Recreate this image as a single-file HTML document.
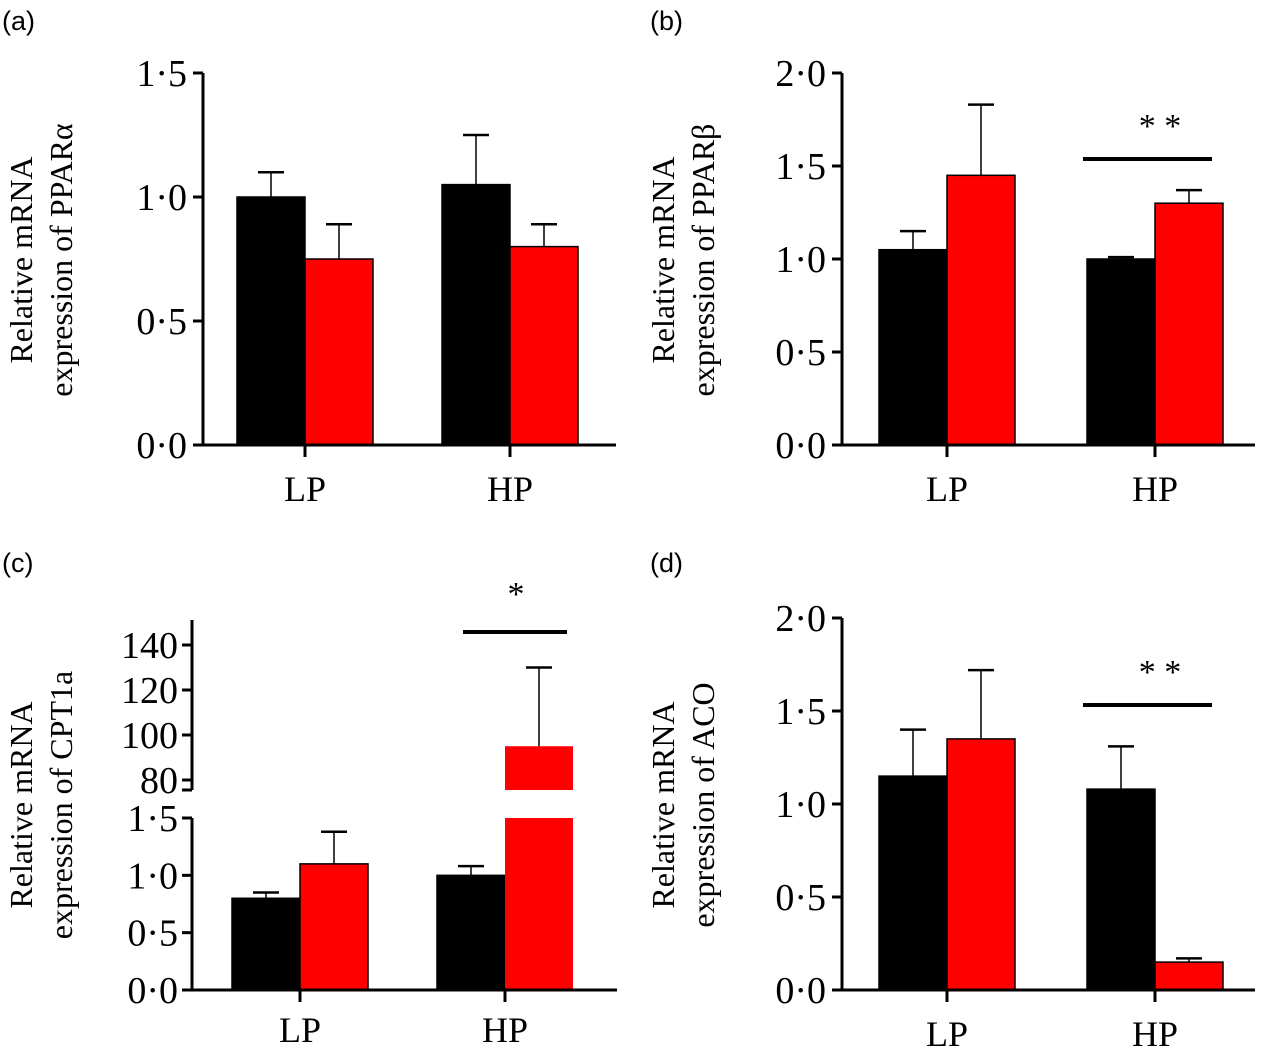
<!DOCTYPE html>
<html><head><meta charset="utf-8"><style>
body{margin:0;background:#fff}
svg{display:block}
text{font-family:"Liberation Serif","Times New Roman",serif}
</style></head><body>
<svg id="fig" width="1270" height="1055" viewBox="0 0 1270 1055" xmlns="http://www.w3.org/2000/svg">
<g font-size="27">
<text x="2" y="30" style="font-family:'Liberation Sans',sans-serif">(a)</text>
<text x="650" y="30" style="font-family:'Liberation Sans',sans-serif">(b)</text>
<text x="2" y="572" style="font-family:'Liberation Sans',sans-serif">(c)</text>
<text x="650" y="572" style="font-family:'Liberation Sans',sans-serif">(d)</text>
</g>
</svg>
<script>
const categories = ["LP", "HP"];
const aBlack = [1.0, 1.05], aBlackErr = [0.10, 0.20];
const aRed = [0.75, 0.80], aRedErr = [0.14, 0.09];
const aTicks = ["0·0", "0·5", "1·0", "1·5"];
const bBlack = [1.05, 1.0], bBlackErr = [0.10, 0.01];
const bRed = [1.45, 1.30], bRedErr = [0.38, 0.07];
const bTicks = ["0·0", "0·5", "1·0", "1·5", "2·0"];
const cBlack = [0.80, 1.00], cBlackErr = [0.05, 0.08];
const cRed = [1.10, 95], cRedErr = [0.28, 35];
const cTicksLow = ["0·0", "0·5", "1·0", "1·5"];
const cTicksHigh = ["80", "100", "120", "140"];
const dBlack = [1.15, 1.08], dBlackErr = [0.25, 0.23];
const dRed = [1.35, 0.15], dRedErr = [0.37, 0.02];
const dTicks = ["0·0", "0·5", "1·0", "1·5", "2·0"];

const NS = "http://www.w3.org/2000/svg";
const svg = document.getElementById("fig");
const TICK = 38;
function mk(tag, attrs, parent) {
  const e = document.createElementNS(NS, tag);
  for (const k in attrs) e.setAttribute(k, attrs[k]);
  (parent || svg).appendChild(e);
  return e;
}
function txt(x, y, s, size, anchor, parent) {
  const t = mk("text", {x: x, y: y, "font-size": size, "text-anchor": anchor || "middle", "font-family": "Liberation Serif, serif"}, parent);
  t.textContent = s;
  return t;
}
function ytitle(cx, cy, l1, l2) {
  const g = mk("g", {transform: "translate(" + cx + "," + cy + ") rotate(-90)"});
  
  
  txt(0, 0, l1, 32, "middle", g);
  txt(0, 40, l2, 32, "middle", g);
}
function errbar(x, yTop, yErr, g) {
  mk("line", {x1: x, y1: yTop, x2: x, y2: yErr, stroke: "#000", "stroke-width": 1.5}, g);
  mk("line", {x1: x - 13, y1: yErr, x2: x + 13, y2: yErr, stroke: "#000", "stroke-width": 2.5}, g);
}
function panel(id, ax, y0, yTop, maxV, ticks, black, blackErr, red, redErr, groupX, sig) {
  const g = mk("g", {});
  
  
  const Y = v => y0 - (v / maxV) * (y0 - yTop);
  const bw = 68;
  for (let i = 0; i < categories.length; i++) {
    const cx = groupX[i];
    const b = mk("rect", {x: cx - bw, y: Y(black[i]), width: bw, height: y0 - Y(black[i]), fill: "#000", stroke: "#000", "stroke-width": 1.5}, g);
    
    
    errbar(cx - bw / 2, Y(black[i]), Y(black[i] + blackErr[i]), g);
    const r = mk("rect", {x: cx, y: Y(red[i]), width: bw, height: y0 - Y(red[i]), fill: "#ff0000", stroke: "#000", "stroke-width": 1.5}, g);
    
    
    errbar(cx + bw / 2, Y(red[i]), Y(red[i] + redErr[i]), g);
    mk("line", {x1: cx, y1: y0, x2: cx, y2: y0 + 12, stroke: "#000", "stroke-width": 3}, g);
    txt(cx, y0 + 56, categories[i], 36, "middle", g);
  }
  mk("line", {x1: ax, y1: yTop, x2: ax, y2: y0, stroke: "#000", "stroke-width": 3}, g);
  mk("line", {x1: ax - 10, y1: y0, x2: ax + 413, y2: y0, stroke: "#000", "stroke-width": 3}, g);
  const step = maxV / (ticks.length - 1);
  ticks.forEach((t, i) => {
    const y = Y(i * step);
    mk("line", {x1: ax - 10, y1: y, x2: ax, y2: y, stroke: "#000", "stroke-width": 3}, g);
    txt(ax - 16, y + 13, t, TICK, "end", g);
  });
  if (sig) {
    const s = mk("line", {x1: groupX[1] - 72, y1: sig.y, x2: groupX[1] + 57, y2: sig.y, stroke: "#000", "stroke-width": 4}, g);
    
    
    txt(groupX[1] + 5, sig.y - 22, sig.t, 34, "middle", g);
  }
}
panel("a", 203, 445, 73, 1.5, aTicks, aBlack, aBlackErr, aRed, aRedErr, [305, 510], null);
ytitle(32, 260, "Relative mRNA", "expression of PPARα");
panel("b", 842, 445, 73, 2.0, bTicks, bBlack, bBlackErr, bRed, bRedErr, [947, 1155], {y: 159, t: "* *"});
ytitle(674, 260, "Relative mRNA", "expression of PPARβ");
panel("d", 842, 990, 618, 2.0, dTicks, dBlack, dBlackErr, dRed, dRedErr, [947, 1155], {y: 705, t: "* *"});
ytitle(674, 805, "Relative mRNA", "expression of ACO");

(function () {
  const g = mk("g", {});
  
  
  const ax = 192, y0 = 990, yL = 818, yBreak = 790;
  const YL = v => y0 - (v / 1.5) * (y0 - yL);
  const YH = v => 780 - (v - 80) / 60 * (780 - 645);
  const Yv = v => v <= 1.5 ? YL(v) : YH(v);
  const groupX = [300, 505], bw = 68;
  for (let i = 0; i < categories.length; i++) {
    const cx = groupX[i];
    const b = mk("rect", {x: cx - bw, y: Yv(cBlack[i]), width: bw, height: y0 - Yv(cBlack[i]), fill: "#000", stroke: "#000", "stroke-width": 1.5}, g);
    
    
    errbar(cx - bw / 2, Yv(cBlack[i]), Yv(cBlack[i] + cBlackErr[i]), g);
    if (cRed[i] <= 1.5) {
      const r = mk("rect", {x: cx, y: YL(cRed[i]), width: bw, height: y0 - YL(cRed[i]), fill: "#ff0000", stroke: "#000", "stroke-width": 1.5}, g);
      
      
    } else {
      const r1 = mk("rect", {x: cx, y: yL, width: bw, height: y0 - yL, fill: "#ff0000"}, g);
      
      
      const r2 = mk("rect", {x: cx, y: YH(cRed[i]), width: bw, height: yBreak - YH(cRed[i]), fill: "#ff0000"}, g);
      
      
    }
    errbar(cx + bw / 2, Yv(cRed[i]), Yv(cRed[i] + cRedErr[i]), g);
    mk("line", {x1: cx, y1: y0, x2: cx, y2: y0 + 12, stroke: "#000", "stroke-width": 3}, g);
    txt(cx, y0 + 52, categories[i], 36, "middle", g);
  }
  mk("line", {x1: ax, y1: yL, x2: ax, y2: y0, stroke: "#000", "stroke-width": 3}, g);
  mk("line", {x1: ax, y1: 620, x2: ax, y2: yBreak, stroke: "#000", "stroke-width": 3}, g);
  mk("line", {x1: ax - 10, y1: yBreak, x2: ax, y2: yBreak, stroke: "#000", "stroke-width": 3}, g);
  mk("line", {x1: ax - 10, y1: y0, x2: ax + 425, y2: y0, stroke: "#000", "stroke-width": 3}, g);
  cTicksLow.forEach((t, i) => {
    const y = YL(i * 0.5);
    mk("line", {x1: ax - 10, y1: y, x2: ax, y2: y, stroke: "#000", "stroke-width": 3}, g);
    txt(ax - 14, y + 13, t, TICK, "end", g);
  });
  cTicksHigh.forEach((t, i) => {
    const y = YH(80 + i * 20);
    mk("line", {x1: ax - 10, y1: y, x2: ax, y2: y, stroke: "#000", "stroke-width": 3}, g);
    txt(ax - 14, y + 13, t, TICK, "end", g);
  });
  const s = mk("line", {x1: 463, y1: 632, x2: 567, y2: 632, stroke: "#000", "stroke-width": 4}, g);
  
  
  txt(516, 605, "*", 34, "middle", g);
})();
ytitle(32, 805, "Relative mRNA", "expression of CPT1a");
</script>
</body></html>
